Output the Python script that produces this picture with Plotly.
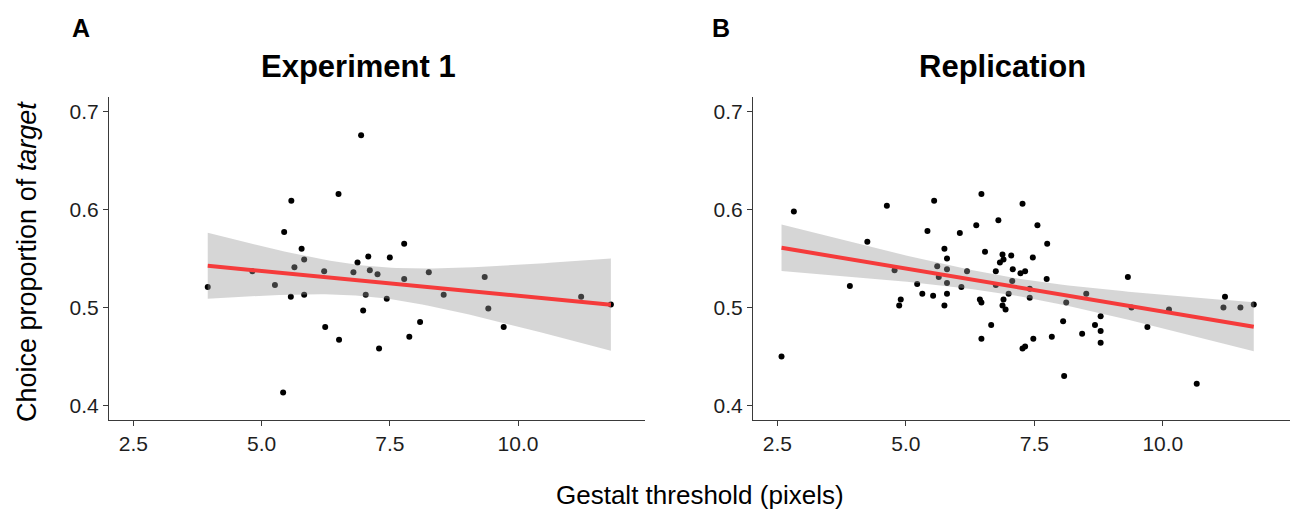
import numpy as np
import plotly.graph_objects as go

# ---------------- data ----------------
exp1_threshold = [3.95, 4.82, 5.26, 5.42, 5.44, 5.58, 5.57, 5.64, 5.78, 5.83, 5.83, 6.22,
                  6.24, 6.50, 6.51, 6.79, 6.87, 6.94, 6.98, 7.03, 7.08, 7.11, 7.26, 7.29,
                  7.44, 7.50, 7.78, 7.78, 7.88, 8.09, 8.26, 8.55, 9.35, 9.42, 9.72, 11.23, 11.81]
exp1_choice = [0.521, 0.537, 0.523, 0.413, 0.577, 0.609, 0.511, 0.541, 0.560, 0.549, 0.513, 0.537,
               0.480, 0.616, 0.467, 0.536, 0.546, 0.676, 0.497, 0.513, 0.552, 0.538, 0.534, 0.458,
               0.509, 0.551, 0.565, 0.529, 0.470, 0.485, 0.536, 0.513, 0.531, 0.499, 0.480, 0.511, 0.503]

rep_threshold = [2.58, 2.82, 3.91, 4.25, 4.63, 4.78, 4.87, 4.90, 5.22, 5.32, 5.42, 5.53, 5.55,
                 5.61, 5.64, 5.75, 5.75, 5.80, 5.80, 5.80, 5.80, 6.05, 6.08, 6.19, 6.37, 6.44,
                 6.47, 6.47, 6.47, 6.54, 6.66, 6.75, 6.75, 6.80, 6.83, 6.88, 6.90, 6.90, 6.88,
                 6.94, 7.00, 7.05, 7.07, 7.08, 7.23, 7.27, 7.27, 7.32, 7.32, 7.41, 7.41, 7.47,
                 7.48, 7.56, 7.74, 7.75, 7.84, 8.06, 8.08, 8.12, 8.43, 8.51, 8.68, 8.79, 8.79,
                 8.79, 9.32, 9.39, 9.70, 10.12, 10.66, 11.18, 11.21, 11.51, 11.77]
rep_choice = [0.450, 0.598, 0.522, 0.567, 0.604, 0.538, 0.502, 0.508, 0.524, 0.514, 0.578, 0.512, 0.609,
              0.542, 0.531, 0.560, 0.502, 0.550, 0.539, 0.525, 0.514, 0.576, 0.521, 0.537, 0.584, 0.508,
              0.616, 0.505, 0.468, 0.557, 0.482, 0.537, 0.523, 0.589, 0.546, 0.554, 0.549, 0.508, 0.502,
              0.498, 0.514, 0.553, 0.527, 0.539, 0.535, 0.606, 0.458, 0.537, 0.460, 0.519, 0.510, 0.551,
              0.468, 0.584, 0.529, 0.565, 0.470, 0.486, 0.430, 0.505, 0.473, 0.514, 0.482, 0.491, 0.476,
              0.464, 0.531, 0.500, 0.480, 0.498, 0.422, 0.500, 0.511, 0.500, 0.503]

panel_titles = ["Experiment 1", "Replication"]
panel_tags = ["A", "B"]
x_ticks = [2.5, 5.0, 7.5, 10.0]
x_tick_labels = ["2.5", "5.0", "7.5", "10.0"]
y_ticks = [0.4, 0.5, 0.6, 0.7]
y_tick_labels = ["0.4", "0.5", "0.6", "0.7"]

# ---------------- helpers ----------------
W, H = 1293, 514
FONT = "Liberation Sans, Arial, sans-serif"


def t_quantile(df, p=0.975):
    z = 1.959963985
    return (z + (z**3 + z) / (4 * df) + (5 * z**5 + 16 * z**3 + 3 * z) / (96 * df**2)
            + (3 * z**7 + 19 * z**5 + 17 * z**3 - 15 * z) / (384 * df**3))


def lm_fit(x, y, n_grid=80):
    x = np.asarray(x, float)
    y = np.asarray(y, float)
    n = len(x)
    b, a = np.polyfit(x, y, 1)
    resid = y - (a + b * x)
    s = np.sqrt(np.sum(resid**2) / (n - 2))
    xbar = x.mean()
    sxx = np.sum((x - xbar) ** 2)
    grid = np.linspace(x.min(), x.max(), n_grid)
    fit = a + b * grid
    se = s * np.sqrt(1 / n + (grid - xbar) ** 2 / sxx)
    t = t_quantile(n - 2)
    return grid, fit, fit - t * se, fit + t * se


def px_x(v):
    return v / W


def px_y(v):
    return 1 - v / H


fig = go.Figure()

panels = [(exp1_threshold, exp1_choice, "x", "y"), (rep_threshold, rep_choice, "x2", "y2")]
for xs, ys, xa, ya in panels:
    fig.add_trace(go.Scatter(x=xs, y=ys, mode="markers", xaxis=xa, yaxis=ya,
                             marker=dict(color="black", size=6, line=dict(width=0)),
                             showlegend=False, hoverinfo="x+y"))
    grid, fit, lo, hi = lm_fit(xs, ys)
    fig.add_trace(go.Scatter(x=grid, y=hi, mode="lines", xaxis=xa, yaxis=ya,
                             line=dict(width=0), showlegend=False, hoverinfo="skip"))
    fig.add_trace(go.Scatter(x=grid, y=lo, mode="lines", xaxis=xa, yaxis=ya, fill="tonexty",
                             fillcolor="rgba(153,153,153,0.4)", line=dict(width=0),
                             showlegend=False, hoverinfo="skip"))
    fig.add_trace(go.Scatter(x=grid, y=fit, mode="lines", xaxis=xa, yaxis=ya,
                             line=dict(color="#F53B3B", width=4), showlegend=False,
                             hoverinfo="skip"))

axis_common = dict(showgrid=False, zeroline=False, showline=True, linecolor="#3a3a3a",
                   linewidth=1.2, ticks="outside", ticklen=5, tickwidth=1.1,
                   tickcolor="#3a3a3a", tickfont=dict(family=FONT, size=21, color="#1e1e1e"),
                   mirror=False)

xdom_a = [px_x(109), px_x(645)]
xdom_b = [px_x(753), px_x(1290)]
ydom = [px_y(420), px_y(97)]

fig.update_layout(
    width=W, height=H,
    margin=dict(l=0, r=0, t=0, b=0),
    paper_bgcolor="white", plot_bgcolor="white",
    xaxis=dict(domain=xdom_a, range=[2.025, 12.475], tickvals=x_ticks, ticktext=x_tick_labels,
               anchor="y", **axis_common),
    yaxis=dict(domain=ydom, range=[0.385, 0.715], tickvals=y_ticks, ticktext=y_tick_labels,
               anchor="x", **axis_common),
    xaxis2=dict(domain=xdom_b, range=[2.025, 12.475], tickvals=x_ticks, ticktext=x_tick_labels,
                anchor="y2", **axis_common),
    yaxis2=dict(domain=ydom, range=[0.385, 0.715], tickvals=y_ticks, ticktext=y_tick_labels,
                anchor="x2", **axis_common),
    font=dict(family=FONT, color="black"),
)

annotations = []
for title, tag, cx, tx in zip(panel_titles, panel_tags, [358, 1002], [81, 721]):
    annotations.append(dict(text="<b>%s</b>" % title, x=px_x(cx), y=px_y(66), xref="paper",
                            yref="paper", xanchor="center", yanchor="middle", showarrow=False,
                            font=dict(family=FONT, size=31, color="black")))
    annotations.append(dict(text="<b>%s</b>" % tag, x=px_x(tx), y=px_y(28), xref="paper",
                            yref="paper", xanchor="center", yanchor="middle", showarrow=False,
                            font=dict(family=FONT, size=25, color="black")))

annotations.append(dict(text="Choice proportion of <i>target</i>", x=px_x(27), y=px_y(262),
                        xref="paper", yref="paper", xanchor="center", yanchor="middle",
                        textangle=-90, showarrow=False,
                        font=dict(family=FONT, size=27, color="black")))
annotations.append(dict(text="Gestalt threshold (pixels)", x=px_x(700), y=px_y(495),
                        xref="paper", yref="paper", xanchor="center", yanchor="middle",
                        showarrow=False, font=dict(family=FONT, size=26, color="black")))
fig.update_layout(annotations=annotations)

fig.write_html("out.html", config={"displayModeBar": False},
               post_script="document.body.style.margin='0';document.body.style.overflow='hidden';")
